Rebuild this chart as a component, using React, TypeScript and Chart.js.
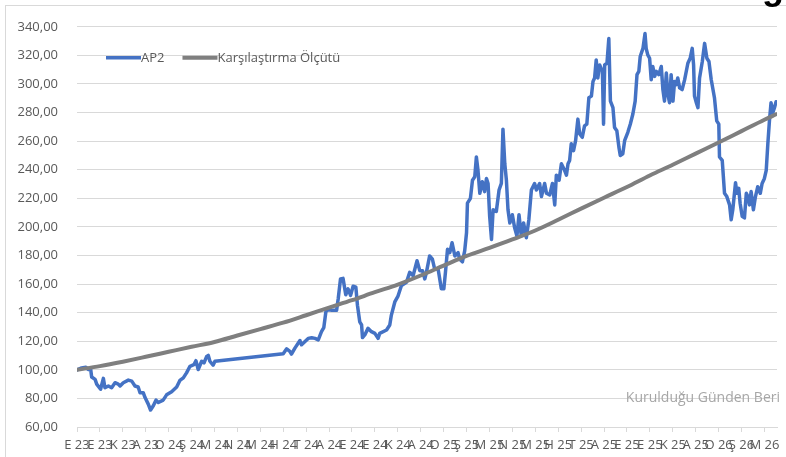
import React, { useEffect, useRef } from "react";
import { Chart, registerables } from "chart.js";

Chart.register(...registerables);

// Month tick labels (Turkish month initials, Sep 2023 .. Mar 2026)
const monthLabels = [
  "E 23", "E 23", "K 23", "A 23", "O 24", "Ş 24", "M 24", "N 24", "M 24", "H 24",
  "T 24", "A 24", "E 24", "E 24", "K 24", "A 24", "O 25", "Ş 25", "M 25", "N 25",
  "M 25", "H 25", "T 25", "A 25", "E 25", "E 25", "K 25", "A 25", "O 26", "Ş 26", "M 26",
];

// AP2 series: x = months since start (Sep 2023), y = value
const apMonths = [
  0, 0.2, 0.39, 0.49, 0.6, 0.64, 0.79, 0.86, 1.03, 1.15, 1.22, 1.37, 1.51, 1.66, 1.8, 1.88,
  2.02, 2.24, 2.39, 2.53, 2.67, 2.75, 2.89, 2.97, 3.11, 3.21, 3.33, 3.45, 3.55, 3.76, 3.91,
  4.13, 4.35, 4.49, 4.64, 4.78, 4.93, 5.1, 5.19, 5.29, 5.44, 5.54, 5.66, 5.73, 5.8, 5.94, 6.02,
  9.0, 9.15, 9.29, 9.36, 9.51, 9.73, 9.8, 10.09, 10.24, 10.39, 10.53, 10.67, 10.77, 10.86, 10.96,
  11.11, 11.33, 11.4, 11.5, 11.61, 11.73, 11.83, 11.94, 12.05, 12.17, 12.24, 12.34, 12.42, 12.46,
  12.56, 12.7, 12.85, 13.0, 13.14, 13.21, 13.51, 13.65, 13.72, 13.87, 14.01, 14.16, 14.38, 14.52,
  14.67, 14.84, 14.96, 15.08, 15.18, 15.25, 15.39, 15.51, 15.61, 15.76, 15.9, 16.01, 16.08, 16.17,
  16.27, 16.37, 16.49, 16.63, 16.7, 16.82, 16.92, 17.0, 17.04, 17.17, 17.26, 17.36, 17.43, 17.5,
  17.58, 17.69, 17.79, 17.87, 17.94, 18.01, 18.09, 18.16, 18.3, 18.42, 18.52, 18.59, 18.67, 18.74,
  18.81, 18.89, 19.0, 19.1, 19.2, 19.29, 19.39, 19.49, 19.61, 19.72, 19.83, 19.97, 20.05, 20.19,
  20.27, 20.41, 20.49, 20.63, 20.75, 20.85, 20.92, 21.04, 21.14, 21.28, 21.36, 21.43, 21.5, 21.57,
  21.67, 21.76, 21.86, 21.94, 22.05, 22.15, 22.25, 22.34, 22.45, 22.52, 22.59, 22.66, 22.73, 22.81,
  22.93, 22.98, 23.03, 23.13, 23.21, 23.28, 23.39, 23.46, 23.56, 23.65, 23.71, 23.82, 23.9, 24.04,
  24.15, 24.26, 24.36, 24.44, 24.52, 24.58, 24.7, 24.79, 24.84, 24.91, 24.99, 25.06, 25.13, 25.21,
  25.28, 25.39, 25.5, 25.57, 25.64, 25.72, 25.79, 25.86, 25.93, 26.01, 26.08, 26.15, 26.22, 26.3,
  26.41, 26.52, 26.66, 26.76, 26.85, 26.91, 26.95, 27.03, 27.1, 27.17, 27.29, 27.39, 27.49, 27.58,
  27.68, 27.82, 27.92, 28.01, 28.04, 28.16, 28.26, 28.36, 28.48, 28.55, 28.62, 28.74, 28.8, 28.88,
  28.94, 29.03, 29.13, 29.21, 29.28, 29.35, 29.42, 29.52, 29.61, 29.71, 29.82, 29.9, 30.0, 30.08,
  30.15, 30.22, 30.29, 30.37, 30.44, 30.51,
];
const apValues = [
  100, 101.3, 101.8, 100.2, 100, 95, 93.3, 90, 86.4, 94, 87.5, 88.7, 87.5, 91, 90, 88.7,
  91, 92.8, 92.1, 88.7, 88, 84, 84, 80.6, 76, 71.9, 74.9, 78.8, 77.1, 78.8, 82.5,
  84.7, 88, 92.6, 94.4, 97.9, 102.5, 103.6, 106.4, 100.2, 106, 104.8, 109.4, 110.1, 106, 103.2, 106,
  111.3, 114.7, 112.9, 111, 115.2, 120.5, 117.5, 122, 122.5, 122, 121, 126.7, 129.5, 140.5, 142.4,
  141.7, 141.7, 149.7, 163.6, 164, 152.5, 156.7, 152.1, 158.5, 157.8, 145.2, 133.6, 131.4, 122.6,
  124.4, 129, 126.7, 125.5, 122, 125.5, 127.9, 131.4, 138.3, 147.5, 151.6, 159, 161.3, 168.2,
  165.9, 176.3, 169.4, 169.4, 163.6, 168.2, 179.7, 177.4, 170.5, 170.5, 156.7, 156.7, 168.2, 184.3,
  182, 188.9, 179.7, 182, 177.4, 175.6, 183.2, 195.9, 216.6, 220, 232.7, 235.1, 248.9, 239.6,
  223.5, 231.6, 224.7, 233.9, 230.4, 207.4, 191.2, 212, 210.8, 225.8, 230.4, 268.4, 244.2, 232.7,
  212, 202.8, 208.5, 199.3, 193.6, 208.5, 193.6, 202.8, 192.4, 205, 225.8, 230.4, 225.8, 230.4,
  221.2, 230.4, 223.5, 222.3, 230.4, 215.4, 236.2, 232.7, 244.2, 239.6, 236.2, 244.2, 246.5, 258.1,
  253.4, 260.3, 275.4, 265, 262.7, 270.7, 271.9, 290.4, 291.5, 301.8, 304.2, 316.8, 304.2, 313.3,
  308.8, 271.9, 313.3, 314.5, 331.8, 288, 283.4, 269.6, 267.3, 255.8, 250, 251.2, 260.3, 266.2,
  272, 279, 288, 306.5, 308.8, 319.2, 324.9, 335.3, 324.9, 320.3, 318, 303, 312.2, 305.3,
  308.8, 306.5, 312.2, 296.1, 288, 307.6, 292.6, 286.9, 306.5, 288, 301.8, 299.5, 304.2, 297.3,
  296.1, 303, 314.5, 318, 324.9, 313.3, 291.5, 286.9, 283.4, 304.2, 315.7, 328.4, 318, 315.7,
  303, 290.4, 274.2, 271.9, 248.9, 246.5, 223.5, 221.2, 215.4, 205, 212, 230.9, 223.5, 227,
  216.6, 207.4, 206.3, 223.5, 221.2, 215.4, 224.7, 212, 221.2, 228.1, 223.5, 230.4, 233.9, 239.6,
  258.1, 274.2, 286.9, 280, 283.4, 287.6,
];

// Benchmark ("Karşılaştırma Ölçütü") series
const benchMonths = [
  0, 1, 2, 3, 4, 5, 6, 7, 8, 9, 10, 11, 12, 13, 14, 15, 16, 17, 18, 19, 20,
  21, 22, 23, 24, 25, 26, 27, 28, 29, 30, 30.51,
];
const benchValues = [
  100, 102.6, 105.7, 109.1, 112.6, 116.1, 119.5, 124, 128.5, 133, 138.2, 143.5, 148.7, 154.3,
  159.6, 166, 172.9, 179.7, 185.3, 191.2, 197.5, 205, 212.8, 220.4, 227.9, 236, 243.5, 251.3,
  259, 267, 275, 278.8,
];

const seriesNames = ["AP2", "Karşılaştırma Ölçütü"];
const seriesColors = ["#4472C4", "#7F7F7F"];
const watermarkText = "Kurulduğu Günden Beri";
const titleTail = "g";

const Y_MIN = 60;
const Y_MAX = 340;
const Y_STEP = 20;
const X_MAX = 30.55;

const FONT_FAMILY = '"Open Sans", "Liberation Sans", sans-serif';
const LABEL_COLOR = "#595959";
const GRID_COLOR = "#D9D9D9";

const decorPlugin = {
  id: "decor",
  afterDraw(chart: any) {
    const { ctx, chartArea } = chart;
    ctx.save();
    // Legend inside the plot area
    ctx.font = `13px ${FONT_FAMILY}`;
    ctx.textBaseline = "middle";
    ctx.textAlign = "left";
    let x = chartArea.left + 29;
    const y = chartArea.top + 31;
    seriesNames.forEach((name, i) => {
      ctx.strokeStyle = seriesColors[i];
      ctx.lineWidth = i === 0 ? 3.5 : 4;
      ctx.lineCap = "butt";
      ctx.beginPath();
      ctx.moveTo(x, y);
      ctx.lineTo(x + 35, y);
      ctx.stroke();
      ctx.fillStyle = LABEL_COLOR;
      ctx.fillText(name, x + 35, y);
      x += 35 + ctx.measureText(name).width + 18;
    });
    // Watermark
    ctx.font = `14px ${FONT_FAMILY}`;
    ctx.fillStyle = "#A6A6A6";
    ctx.textAlign = "right";
    ctx.textBaseline = "middle";
    const yScale = chart.scales.y;
    ctx.fillText(watermarkText, chartArea.right + 3, yScale.getPixelForValue(80));
    // Cut-off title glyph at top right
    ctx.font = 'bold 36px "Liberation Sans", sans-serif';
    ctx.fillStyle = "#000000";
    ctx.textAlign = "center";
    ctx.textBaseline = "alphabetic";
    ctx.fillText(titleTail, 773, -1.5);
    ctx.restore();
  },
};

export default function App() {
  const canvasRef = useRef<HTMLCanvasElement | null>(null);

  useEffect(() => {
    if (!canvasRef.current) return;
    const apData = apMonths.map((m, i) => ({ x: m, y: apValues[i] }));
    const benchData = benchMonths.map((m, i) => ({ x: m, y: benchValues[i] }));
    const chart = new Chart(canvasRef.current, {
      type: "line",
      data: {
        datasets: [
          {
            label: seriesNames[0],
            data: apData,
            borderColor: seriesColors[0],
            backgroundColor: seriesColors[0],
            borderWidth: 3.5,
            pointRadius: 0,
            tension: 0,
            borderJoinStyle: "round",
            borderCapStyle: "round",
            order: 1,
          },
          {
            label: seriesNames[1],
            data: benchData,
            borderColor: seriesColors[1],
            backgroundColor: seriesColors[1],
            borderWidth: 4,
            pointRadius: 0,
            cubicInterpolationMode: "monotone",
            borderJoinStyle: "round",
            borderCapStyle: "round",
            order: 0,
          },
        ],
      },
      options: {
        responsive: false,
        animation: false,
        events: [],
        layout: { padding: { top: 21, right: 9, bottom: 0, left: 0 } },
        plugins: {
          legend: { display: false },
          tooltip: { enabled: false },
          title: { display: false },
        },
        scales: {
          x: {
            type: "linear",
            min: 0,
            max: X_MAX,
            afterBuildTicks: (scale: any) => {
              scale.ticks = monthLabels.map((_, i) => ({ value: i }));
            },
            afterFit: (scale: any) => {
              scale.height = 30;
            },
            ticks: {
              autoSkip: false,
              maxRotation: 0,
              minRotation: 0,
              padding: 5,
              color: LABEL_COLOR,
              font: { family: FONT_FAMILY, size: 13 },
              callback: (_v: any, index: number) => monthLabels[index],
            },
            grid: {
              drawOnChartArea: false,
              drawTicks: true,
              tickLength: 5,
              color: GRID_COLOR,
            },
            border: { display: true, color: GRID_COLOR },
          },
          y: {
            min: Y_MIN,
            max: Y_MAX,
            afterFit: (scale: any) => {
              scale.width = 77;
            },
            ticks: {
              stepSize: Y_STEP,
              padding: 19,
              color: LABEL_COLOR,
              font: { family: FONT_FAMILY, size: 13 },
              callback: (v: any) => Number(v).toFixed(2).replace(".", ","),
            },
            grid: { color: GRID_COLOR, drawTicks: false },
            border: { display: false },
          },
        },
      },
      plugins: [decorPlugin],
    });
    return () => chart.destroy();
  }, []);

  return (
    <div
      style={{
        position: "fixed",
        left: 0,
        top: 0,
        width: 786,
        height: 457,
        overflow: "hidden",
        background: "#ffffff",
      }}
    >
      <div
        style={{
          position: "absolute",
          left: 5,
          top: 5,
          width: 900,
          height: 600,
          border: "1px solid #D9D9D9",
          boxSizing: "border-box",
        }}
      />
      <canvas
        ref={canvasRef}
        width={786}
        height={457}
        style={{ position: "absolute", left: 0, top: 0, width: 786, height: 457 }}
      />
    </div>
  );
}
